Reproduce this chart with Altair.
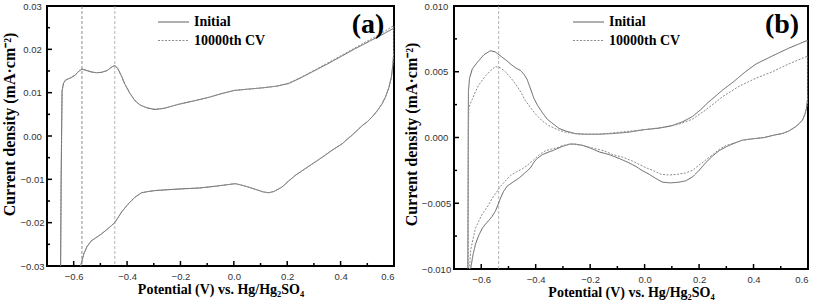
import altair as alt
import pandas as pd

# ---------------- panel (a) ----------------
a_init_E = [-0.651, -0.649, -0.647, -0.6445, -0.6435, -0.638, -0.631, -0.620, -0.609, -0.595,
            -0.580, -0.569, -0.555, -0.535, -0.515, -0.495, -0.475, -0.460, -0.446, -0.435,
            -0.422, -0.409, -0.390, -0.371, -0.350, -0.325, -0.296, -0.260, -0.208, -0.150,
            -0.095, -0.045, 0.000, 0.050, 0.105, 0.160, 0.205, 0.250, 0.306, 0.350,
            0.406, 0.450, 0.506, 0.550, 0.600,
            0.600, 0.596, 0.590, 0.581, 0.568, 0.556, 0.537, 0.518, 0.500, 0.481,
            0.462, 0.443, 0.420, 0.406, 0.370, 0.331, 0.290, 0.256, 0.230, 0.205,
            0.180, 0.150, 0.130, 0.110, 0.080, 0.050, 0.020, 0.005, -0.020, -0.070,
            -0.130, -0.195, -0.250, -0.296, -0.320, -0.346, -0.370, -0.396, -0.420, -0.446,
            -0.470, -0.496, -0.515, -0.534, -0.550, -0.562, -0.574, -0.582]
a_init_j = [-0.036, -0.030, -0.010, 0.0050, 0.0105, 0.0122, 0.0129, 0.0132, 0.0135, 0.0140,
            0.0150, 0.0154, 0.0152, 0.0148, 0.0146, 0.0147, 0.0151, 0.0158, 0.0163, 0.0156,
            0.0140, 0.0121, 0.0099, 0.0082, 0.0071, 0.0065, 0.0061, 0.0064, 0.0073, 0.0081,
            0.0089, 0.0098, 0.0105, 0.0108, 0.0111, 0.0115, 0.0121, 0.0134, 0.0152, 0.0166,
            0.0185, 0.0200, 0.0218, 0.0232, 0.0249,
            0.0200, 0.0165, 0.0135, 0.0112, 0.0090, 0.0075, 0.0058, 0.0044, 0.0033, 0.0024,
            0.0013, 0.0002, -0.0010, -0.0018, -0.0032, -0.0049, -0.0066, -0.0080, -0.0091, -0.0104,
            -0.0118, -0.0128, -0.0131, -0.0129, -0.0123, -0.0117, -0.0112, -0.0110, -0.0112, -0.0116,
            -0.0120, -0.0122, -0.0124, -0.0126, -0.0128, -0.0131, -0.0141, -0.0157, -0.0175, -0.0200,
            -0.0213, -0.0226, -0.0234, -0.0242, -0.0255, -0.0272, -0.0300, -0.0330]

a_cv_E = [-0.651, -0.649, -0.647, -0.6445, -0.6435, -0.638, -0.631, -0.620, -0.609, -0.595,
          -0.580, -0.569, -0.555, -0.535, -0.515, -0.495, -0.475, -0.460, -0.446, -0.435,
          -0.422, -0.409, -0.390, -0.371, -0.350, -0.325, -0.296, -0.260, -0.208, -0.150,
          -0.095, -0.045, 0.000, 0.050, 0.105, 0.160, 0.205, 0.250, 0.306, 0.350,
          0.406, 0.450, 0.506, 0.550, 0.600,
          0.600, 0.596, 0.590, 0.581, 0.568, 0.556, 0.537, 0.518, 0.500, 0.481,
          0.462, 0.443, 0.420, 0.406, 0.370, 0.331, 0.290, 0.256, 0.230, 0.205,
          0.180, 0.150, 0.130, 0.110, 0.080, 0.050, 0.020, 0.005, -0.020, -0.070,
          -0.130, -0.195, -0.250, -0.296, -0.320, -0.346, -0.370, -0.396, -0.420, -0.446,
          -0.470, -0.496, -0.515, -0.534, -0.550, -0.562, -0.574, -0.582]
a_cv_j = [-0.036, -0.030, -0.010, 0.0050, 0.0104, 0.0121, 0.0128, 0.0132, 0.0135, 0.0141,
          0.0150, 0.0155, 0.0152, 0.0148, 0.0146, 0.0147, 0.0151, 0.0158, 0.0163, 0.0155,
          0.0139, 0.0120, 0.0099, 0.0082, 0.0071, 0.0065, 0.0062, 0.0064, 0.0073, 0.0081,
          0.0089, 0.0098, 0.0105, 0.0108, 0.0111, 0.0115, 0.0122, 0.0135, 0.0153, 0.0168,
          0.0187, 0.0202, 0.0221, 0.0236, 0.0255,
          0.0205, 0.0166, 0.0135, 0.0112, 0.0090, 0.0075, 0.0058, 0.0044, 0.0033, 0.0024,
          0.0013, 0.0002, -0.0010, -0.0018, -0.0032, -0.0049, -0.0066, -0.0080, -0.0091, -0.0104,
          -0.0118, -0.0128, -0.0131, -0.0129, -0.0123, -0.0117, -0.0112, -0.0110, -0.0112, -0.0116,
          -0.0120, -0.0122, -0.0124, -0.0126, -0.0128, -0.0131, -0.0141, -0.0157, -0.0175, -0.0200,
          -0.0213, -0.0226, -0.0234, -0.0242, -0.0255, -0.0272, -0.0300, -0.0330]

a_markers = [-0.569, -0.446]

# ---------------- panel (b) ----------------
b_init_E = [-0.6495, -0.6485, -0.6477, -0.6470, -0.643, -0.633, -0.615, -0.590, -0.566, -0.548,
            -0.529, -0.510, -0.493, -0.474, -0.456, -0.443, -0.431, -0.419, -0.407, -0.392,
            -0.376, -0.358, -0.340, -0.315, -0.291, -0.255, -0.218, -0.170, -0.117, -0.060,
            0.000, 0.050, 0.100, 0.140, 0.176, 0.205, 0.235, 0.286, 0.330, 0.370,
            0.410, 0.469, 0.530, 0.600,
            0.600, 0.599, 0.594, 0.589, 0.579, 0.565, 0.553, 0.530, 0.506, 0.479,
            0.440, 0.396, 0.360, 0.333, 0.300, 0.274, 0.250, 0.225, 0.200, 0.176,
            0.150, 0.125, 0.095, 0.066, 0.040, 0.017, -0.010, -0.032, -0.060, -0.093,
            -0.130, -0.166, -0.200, -0.227, -0.255, -0.276, -0.305, -0.337, -0.352, -0.375,
            -0.395, -0.407, -0.419, -0.440, -0.462, -0.484, -0.505, -0.518, -0.529, -0.540,
            -0.548, -0.560, -0.572, -0.585, -0.596, -0.608, -0.621, -0.630, -0.639, -0.644]
b_init_j = [-0.0115, -0.0050, 0.0010, 0.0035, 0.0045, 0.0052, 0.0057, 0.0063, 0.0066, 0.0065,
            0.0062, 0.0059, 0.0056, 0.0053, 0.0051, 0.0048, 0.0044, 0.0037, 0.0030, 0.0024,
            0.0019, 0.0014, 0.0011, 0.0007, 0.0005, 0.0003, 0.00025, 0.00025, 0.0003, 0.0004,
            0.0006, 0.0007, 0.0009, 0.0012, 0.0016, 0.0021, 0.0027, 0.0036, 0.0043, 0.0050,
            0.0056, 0.0062, 0.0068, 0.0074,
            0.0038, 0.0030, 0.0022, 0.0018, 0.0013, 0.0010, 0.0008, 0.0005, 0.0003, 0.0002,
            0.0000, -0.0001, -0.0002, -0.0004, -0.0007, -0.0010, -0.0014, -0.0019, -0.0025, -0.0030,
            -0.0033, -0.0034, -0.00345, -0.0034, -0.0031, -0.0028, -0.0025, -0.0022, -0.0019, -0.0016,
            -0.0013, -0.0011, -0.0008, -0.0006, -0.0005, -0.0005, -0.0007, -0.0010, -0.0011, -0.0013,
            -0.0016, -0.0019, -0.0023, -0.0027, -0.0031, -0.0034, -0.0037, -0.0041, -0.0046, -0.0052,
            -0.0056, -0.0060, -0.0063, -0.0066, -0.0069, -0.0074, -0.0081, -0.0089, -0.0100, -0.0115]

b_cv_E = [-0.648, -0.6475, -0.647, -0.6455, -0.640, -0.633, -0.621, -0.609, -0.584, -0.565,
          -0.548, -0.530, -0.511, -0.490, -0.468, -0.453, -0.438, -0.420, -0.401, -0.378,
          -0.352, -0.320, -0.291, -0.240, -0.166, -0.093, 0.000, 0.078, 0.125, 0.176,
          0.225, 0.286, 0.347, 0.408, 0.469, 0.530, 0.600,
          0.600, 0.599, 0.594, 0.589, 0.579, 0.565, 0.553, 0.530, 0.506, 0.479,
          0.440, 0.396, 0.360, 0.333, 0.300, 0.274, 0.250, 0.225, 0.200, 0.176,
          0.150, 0.120, 0.090, 0.060, 0.030, 0.005, -0.044, -0.080, -0.117, -0.150,
          -0.191, -0.230, -0.264, -0.300, -0.325, -0.345, -0.364, -0.386, -0.407, -0.430,
          -0.450, -0.470, -0.493, -0.511, -0.529, -0.545, -0.559, -0.575, -0.596, -0.610,
          -0.621, -0.630, -0.639, -0.643, -0.645]
b_cv_j = [-0.0115, -0.0050, 0.0005, 0.0022, 0.0026, 0.0029, 0.0035, 0.0040, 0.0047, 0.0051,
          0.0054, 0.0053, 0.0050, 0.0045, 0.0039, 0.0034, 0.0028, 0.0023, 0.0018, 0.0013,
          0.0009, 0.0006, 0.0004, 0.00025, 0.00025, 0.0004, 0.0006, 0.0008, 0.0010, 0.0014,
          0.0021, 0.0031, 0.0039, 0.0045, 0.0050, 0.0056, 0.0062,
          0.0034, 0.0028, 0.0021, 0.0017, 0.0013, 0.0010, 0.0008, 0.0005, 0.0003, 0.0002,
          0.0000, -0.0001, -0.0002, -0.0004, -0.0006, -0.0009, -0.0013, -0.0017, -0.0021, -0.0025,
          -0.0027, -0.0028, -0.00285, -0.0028, -0.0025, -0.0023, -0.0018, -0.0015, -0.0013, -0.0010,
          -0.0008, -0.0006, -0.0005, -0.0006, -0.0008, -0.0009, -0.0010, -0.0013, -0.0017, -0.0021,
          -0.0024, -0.0026, -0.0029, -0.0033, -0.0037, -0.0042, -0.0046, -0.0052, -0.0058, -0.0064,
          -0.0069, -0.0077, -0.0086, -0.0100, -0.0115]

b_markers = [-0.536]

# ---------------- shared axis values ----------------
series_names = ["Initial", "10000th CV"]
series_colors = ["#606060", "#8c8c8c"]
series_dash = [[1, 0], [2, 1.5]]
x_major = [-0.6, -0.4, -0.2, 0.0, 0.2, 0.4, 0.6]
x_minor = [-0.5, -0.3, -0.1, 0.1, 0.3, 0.5]
a_y_major = [-0.03, -0.02, -0.01, 0.0, 0.01, 0.02, 0.03]
a_y_minor = [-0.025, -0.015, -0.005, 0.005, 0.015, 0.025]
b_y_major = [-0.010, -0.005, 0.0, 0.005, 0.010]
b_y_minor = [-0.0075, -0.0025, 0.0025, 0.0075]

X_TITLE = "Potential (V) vs. Hg/Hg₂SO₄"
Y_TITLE = "Current density (mA·cm⁻²)"
SERIF = "Liberation Serif"
SANS = "Liberation Sans"


def key_entries(x0, rows_y):
    """Hand-placed key: a line sample and a bold label per series."""
    layers = []
    for name, col, dash, yy in zip(series_names, series_colors, series_dash, rows_y):
        one = alt.Data(values=[{}])
        layers.append(alt.Chart(one).mark_rule(color=col, strokeWidth=1, strokeDash=dash).encode(
            x=alt.value(x0), x2=alt.value(x0 + 31), y=alt.value(yy)))
        layers.append(alt.Chart(one).mark_text(
            font=SERIF, fontWeight="bold", fontSize=14, color="black",
            align="left", baseline="middle").encode(
            x=alt.value(x0 + 36), y=alt.value(yy), text=alt.value(name)))
    return layers


def panel(E_init, j_init, E_cv, j_cv, y_major, y_minor, y_fmt, markers, marker_colors, tag,
          w, h, y_label_pad, key_x, y_title_center):
    xs = alt.Scale(domain=[-0.7, 0.6], nice=False, zero=False)
    ys = alt.Scale(domain=[y_major[0], y_major[-1]], nice=False, zero=False)
    x_axis = alt.Axis(values=x_major, format=".1f", title=X_TITLE, grid=False,
                      domain=False, ticks=False, labelPadding=5,
                      labelFont=SANS, labelFontSize=9.5, labelColor="#333",
                      titleFont=SERIF, titleFontWeight="bold", titleFontSize=14,
                      titleColor="black", titlePadding=2)
    y_axis = alt.Axis(values=y_major, format=y_fmt, title=Y_TITLE, grid=False,
                      domain=False, ticks=False, labelPadding=y_label_pad,
                      labelAlign="center", labelBaseline="middle",
                      labelFont=SANS, labelFontSize=9.5, labelColor="#333",
                      titleFont=SERIF, titleFontWeight="bold", titleFontSize=16,
                      titleColor="black", titlePadding=2, titleY=y_title_center,
                      titleAnchor="middle")
    xenc = alt.X("E:Q", scale=xs, axis=x_axis)
    yenc = alt.Y("j:Q", scale=ys, axis=y_axis)

    # one line layer per scan, drawn in recorded order
    curves = []
    for E, j, col, dash in ((E_init, j_init, series_colors[0], series_dash[0]),
                            (E_cv, j_cv, series_colors[1], series_dash[1])):
        df = pd.DataFrame({"E": E, "j": j, "idx": range(len(E))})
        curves.append(alt.Chart(df).mark_line(
            clip=True, strokeWidth=1, color=col, strokeDash=dash
        ).encode(x=xenc, y=yenc, order="idx:Q"))

    guides = alt.Chart(pd.DataFrame({"E": markers, "c": marker_colors})).mark_rule(
        strokeWidth=0.8, strokeDash=[3, 2]
    ).encode(x=xenc, color=alt.Color("c:N", scale=None))

    xt_major = alt.Chart(pd.DataFrame({"E": x_major})).mark_rule(
        color="black", strokeWidth=1.5).encode(x=xenc, y=alt.value(h), y2=alt.value(h - 5))
    xt_minor = alt.Chart(pd.DataFrame({"E": x_minor})).mark_rule(
        color="black", strokeWidth=1.5).encode(x=xenc, y=alt.value(h), y2=alt.value(h - 3))
    yt_major = alt.Chart(pd.DataFrame({"j": y_major})).mark_rule(
        color="black", strokeWidth=1.5).encode(y=yenc, x=alt.value(0), x2=alt.value(5))
    yt_minor = alt.Chart(pd.DataFrame({"j": y_minor})).mark_rule(
        color="black", strokeWidth=1.5).encode(y=yenc, x=alt.value(0), x2=alt.value(3))

    label = alt.Chart(alt.Data(values=[{}])).mark_text(
        font=SERIF, fontWeight="bold", fontSize=28, color="black",
        align="center", baseline="middle"
    ).encode(x=alt.value(w - 26), y=alt.value(19), text=alt.value(tag))

    return alt.layer(guides, *curves, xt_major, xt_minor, yt_major, yt_minor, label,
                     *key_entries(key_x, [16, 34.5])).properties(width=w, height=h)


chart_a = panel(a_init_E, a_init_j, a_cv_E, a_cv_j, a_y_major, a_y_minor, ".2f",
                a_markers, ["#707070", "#a0a0a0"], "(a)", 347, 260, 15, 111, 118)
chart_b = panel(b_init_E, b_init_j, b_cv_E, b_cv_j, b_y_major, b_y_minor, ".3f",
                b_markers, ["#a0a0a0"], "(b)", 354, 263, 18, 119, 128)

chart = alt.hconcat(chart_a, chart_b, spacing=6).properties(
    padding={"left": 0, "top": 0, "right": 0, "bottom": 0}, background="white"
).configure_view(stroke="black", strokeWidth=2)

chart.save("out.html", embed_options={"renderer": "svg", "actions": False})
